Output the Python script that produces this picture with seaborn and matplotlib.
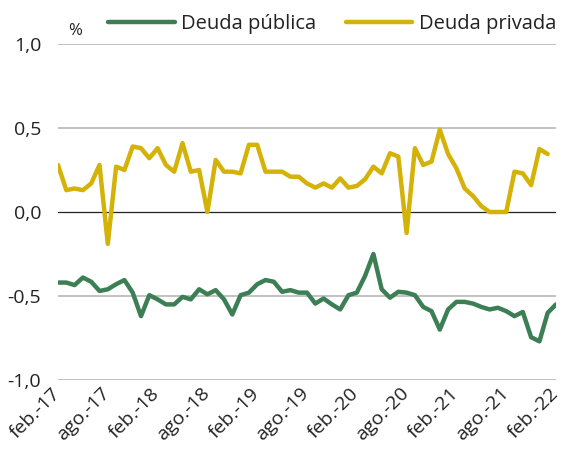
import numpy as np
import pandas as pd
import seaborn as sns
import matplotlib.pyplot as plt
import matplotlib.transforms as mtransforms

# monthly, feb-17 .. feb-22
months = pd.date_range("2017-02-01", "2022-02-01", freq="MS")
mes_abbr = ["ene.", "feb.", "mar.", "abr.", "may.", "jun.",
            "jul.", "ago.", "sep.", "oct.", "nov.", "dic."]

deuda_publica = [
    -0.42, -0.42, -0.435, -0.39, -0.415, -0.47, -0.46, -0.43, -0.405, -0.48,
    -0.62, -0.495, -0.52, -0.55, -0.55, -0.505, -0.52, -0.46, -0.49, -0.465,
    -0.52, -0.61, -0.495, -0.48, -0.43, -0.405, -0.415, -0.475, -0.465, -0.48,
    -0.48, -0.545, -0.515, -0.55, -0.58, -0.495, -0.48, -0.38, -0.25, -0.46,
    -0.51, -0.475, -0.48, -0.495, -0.565, -0.59, -0.70, -0.58, -0.535, -0.535,
    -0.545, -0.565, -0.58, -0.57, -0.59, -0.62, -0.595, -0.745, -0.77, -0.60,
    -0.55,
]

deuda_privada = [
    0.28, 0.13, 0.14, 0.13, 0.17, 0.28, -0.19, 0.27, 0.25, 0.39,
    0.38, 0.32, 0.38, 0.28, 0.24, 0.41, 0.24, 0.25, 0.0, 0.31,
    0.24, 0.24, 0.23, 0.40, 0.40, 0.24, 0.24, 0.24, 0.21, 0.21,
    0.17, 0.145, 0.17, 0.145, 0.20, 0.145, 0.155, 0.195, 0.27, 0.23,
    0.35, 0.33, -0.125, 0.38, 0.28, 0.30, 0.49, 0.345, 0.26, 0.14,
    0.095, 0.035, 0.0, 0.0, 0.0, 0.24, 0.23, 0.16, 0.375, 0.345,
    np.nan,
]

df = pd.DataFrame({
    "t": np.arange(len(months)),
    "Deuda pública": deuda_publica,
    "Deuda privada": deuda_privada,
})
long = df.melt(id_vars="t", var_name="serie", value_name="valor")

sns.set_style("white")
plt.rcParams["font.family"] = ["Open Sans", "DejaVu Sans"]

colores = {"Deuda pública": "#3c7f55", "Deuda privada": "#d4b208"}

fig = plt.figure(figsize=(5.63, 4.54), dpi=100)
ax = fig.add_axes([58 / 563, 1 - 380 / 454, (556 - 58) / 563, (380 - 44) / 454])

for y in [1.0, 0.5, -0.5, -1.0]:
    ax.axhline(y, color="#bdbdbd", lw=1.3, zorder=0)
ax.axhline(0, color="#222222", lw=0.9, zorder=0)

sns.lineplot(data=long, x="t", y="valor", hue="serie", palette=colores,
             linewidth=3.2, ax=ax, legend=False)

ax.set_xlim(0, 60)
ax.set_ylim(-1.0, 1.0)
ax.set_yticks([-1.0, -0.5, 0.0, 0.5, 1.0])
ax.set_yticklabels(["-1,0", "-0,5", "0,0", "0,5", "1,0"])
ticks = list(range(0, 61, 6))
ax.set_xticks(ticks)
ax.set_xticklabels([f"{mes_abbr[months[i].month - 1]}-{months[i].strftime('%y')}"
                    for i in ticks], rotation=45, ha="right", rotation_mode="anchor")
ax.tick_params(axis="both", length=0, colors="#222222")
ax.tick_params(axis="x", labelsize=14, pad=3)
ax.tick_params(axis="y", labelsize=14, pad=12)
shift = mtransforms.ScaledTranslation(-7 / 100, 0, fig.dpi_scale_trans)
for lbl in ax.get_xticklabels():
    lbl.set_transform(lbl.get_transform() + shift)
ax.set_xlabel("")
ax.set_ylabel("")
sns.despine(ax=ax, left=True, bottom=True)

ax.text(0.02, 1.015, "%", transform=ax.transAxes, fontsize=12, color="#222222",
        ha="left", va="bottom")

handles = [plt.Line2D([], [], color=colores[k], lw=3.2) for k in colores]
fig.legend(handles, list(colores), loc="upper center", bbox_to_anchor=(0.59, 1.01),
           ncol=2, frameon=False, fontsize=14.5, handlelength=3.3,
           handletextpad=0.33, columnspacing=1.45, labelcolor="#222222")

fig.savefig("out.png", dpi=100)
